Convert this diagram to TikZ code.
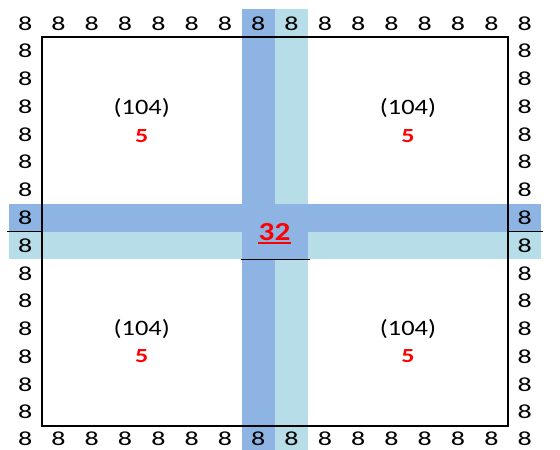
\documentclass[tikz,border=0pt]{standalone}
\usepackage{fontspec}
\setmainfont{Carlito}
\newfontfamily\gridfont[FakeStretch=1.4]{Carlito}
\newfontfamily\labfont[FakeStretch=1.2]{Carlito}
\newfontfamily\redfont[FakeStretch=1.3,UprightFont={* Bold}]{Carlito}
\newfontfamily\bigfont[FakeStretch=1.2,UprightFont={* Bold}]{Carlito}
\definecolor{bandA}{HTML}{8DB4E2}
\definecolor{bandB}{HTML}{B7DEE8}
\definecolor{numred}{HTML}{FF0000}
\begin{document}
\begin{tikzpicture}[x=1pt,y=-1pt,
  eight/.style={font=\gridfont\fontsize{20}{20}\selectfont, inner sep=0pt, anchor=center},
  paren/.style={font=\labfont\fontsize{22}{22}\selectfont, inner sep=0pt, anchor=base},
  redval/.style={font=\redfont\fontsize{20}{20}\selectfont, text=numred, inner sep=0pt, anchor=base},
  bigval/.style={font=\bigfont\fontsize{26}{26}\selectfont, text=numred, inner sep=0pt, anchor=base},
  frame/.style={draw=black, line width=1.5pt}]
\useasboundingbox (0,0) rectangle (560,450);
\def\xo{8.5}\def\cw{33.3}\def\yo{9.4}\def\rh{27.78}
% bands
\begin{scope}
\clip (0,0) rectangle (560,450);
\fill[bandB] ({\xo+8*\cw},{\yo}) rectangle ({\xo+9*\cw},{\yo+16*\rh});
\fill[bandB] ({\xo},{\yo+8*\rh}) rectangle ({\xo+16*\cw},{\yo+9*\rh});
\fill[bandA] ({\xo+7*\cw},{\yo}) rectangle ({\xo+8*\cw},{\yo+16*\rh});
\fill[bandA] ({\xo},{\yo+7*\rh}) rectangle ({\xo+16*\cw},{\yo+8*\rh});
\fill[bandA] ({\xo+7*\cw},{\yo+7*\rh}) rectangle ({\xo+9*\cw},{\yo+9*\rh});
\end{scope}
% frame
\draw[frame] ({\xo+\cw},{\yo+\rh}) rectangle ({\xo+15*\cw},{\yo+15*\rh});
\draw[frame] (7,{\yo+8*\rh}) -- ({\xo+\cw},{\yo+8*\rh});
\draw[frame] ({\xo+15*\cw},{\yo+8*\rh}) -- (543,{\yo+8*\rh});
\draw[frame] (240.7,{\yo+9*\rh}) -- (310,{\yo+9*\rh});
% border eights
\foreach \i in {0,...,15}{
  \node[eight] (t\i) at ({\xo+(\i+0.5)*\cw},{\yo+0.5*\rh}) {8};
  \node[eight] (b\i) at ({\xo+(\i+0.5)*\cw},{\yo+15.5*\rh-1.5}) {8};
}
\foreach \j in {1,...,14}{
  \node[eight] (l\j) at ({\xo+0.5*\cw},{\yo+(\j+0.5)*\rh}) {8};
  \node[eight] (r\j) at ({\xo+15.5*\cw},{\yo+(\j+0.5)*\rh}) {8};
}
% quadrant labels
\node[paren] (p1) at (141.7,114.8) {(104)};
\node[redval] (v1) at (141.7,142) {5};
\node[paren] (p2) at (408,114.8) {(104)};
\node[redval] (v2) at (408,142) {5};
\node[paren] (p3) at (141.7,335.5) {(104)};
\node[redval] (v3) at (141.7,362.7) {5};
\node[paren] (p4) at (408,335.5) {(104)};
\node[redval] (v4) at (408,362.7) {5};
% centre
\node[bigval] (c) at (274.5,240) {32};
\draw[numred, line width=1.7pt] ([yshift=-3.3pt]c.base west) -- ([yshift=-3.3pt]c.base east);
\end{tikzpicture}
\end{document}
